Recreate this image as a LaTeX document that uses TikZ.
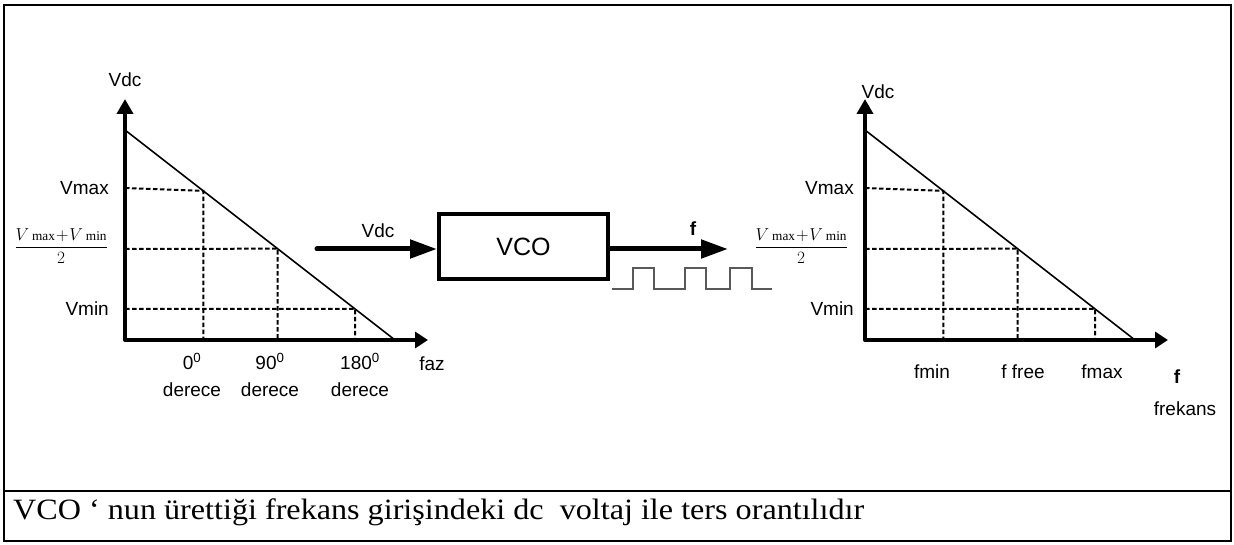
\documentclass[tikz,border=0pt]{standalone}
\usepackage{fontspec}
\setmainfont{Liberation Serif}
\setsansfont{Liberation Sans}
\usetikzlibrary{arrows.meta,positioning,calc}
\tikzset{
  axis/.style={line width=4pt, line join=round, {Triangle[length=15pt,width=16pt]}-{Triangle[length=13pt,width=16pt]}},
  guide/.style={line width=2pt, dash pattern=on 4.5pt off 2.5pt},
  curve/.style={line width=1.6pt},
  lbl/.style={font=\sffamily\fontsize{19}{27}\selectfont, inner sep=1pt, align=center},
  bold/.style={lbl, font=\sffamily\bfseries\fontsize{19}{22}\selectfont},
  frac/.style={font=\fontsize{19}{22}\selectfont, inner sep=0pt},
  sig/.style={-{Triangle[length=27pt,width=18pt]}, line width=5pt, line cap=round},
  vco/.style={draw, line width=4pt, minimum width=169pt, minimum height=65pt, font=\sffamily\fontsize{25}{28}\selectfont},
  wave/.style={black!65, line width=1.3pt},
  frame/.style={line width=2pt}}
\newcommand{\vavg}{$\displaystyle\frac{V\,{\scriptstyle\mathrm{max}}\!+\!V\,{\scriptstyle\mathrm{min}}}{2}$}

\begin{document}
\begin{tikzpicture}[x=1pt, y=-1pt]
  \useasboundingbox (0,0) rectangle (1234,545);
  \draw[frame] (4,5) rectangle (1231,541);
  \draw[frame] (4,491) -- (1231,491);
  % phase chart
  \coordinate (lo) at (125,340);
  \coordinate (ly) at (125,99);
  \coordinate (lx) at (428,340);
  \coordinate (ltop) at (125,130);
  \coordinate (lend) at (395,340);
  \coordinate (lmax) at (125,188);
  \coordinate (lmid) at (125,249);
  \coordinate (lmin) at (125,309);
  \coordinate (lp1) at ($(ltop)!0.29!(lend)$);
  \coordinate (lp2) at ($(ltop)!0.565!(lend)$);
  \coordinate (lp3) at ($(ltop)!0.852!(lend)$);
  \draw[guide] (lmax) -- (lp1) -- (lp1 |- lo);
  \draw[guide] (lmid) -- (lp2) -- (lp2 |- lo);
  \draw[guide] (lmin) -- (lp3) -- (lp3 |- lo);
  \draw[curve] (ltop) -- (lend);
  \draw[axis] (ly) -- (lo) -- (lx);
  \node[lbl] (lvdc) at (125,80) {Vdc};
  \node[lbl, left=15pt of lmax] (lvmax) {Vmax};
  \node[frac, left=17pt of lmid, yshift=3pt] (lvavg) {\vavg};
  \node[lbl, left=15pt of lmin] (lvmin) {Vmin};
  \node[lbl] (l0) at (192,375) {0\textsuperscript{0}\\derece};
  \node[lbl] (l90) at (270,375) {90\textsuperscript{0}\\derece};
  \node[lbl] (l180) at (360,375) {180\textsuperscript{0}\\derece};
  \node[lbl] (lfaz) at (432,364) {faz};
  % vco block
  \node[vco] (vco) at (523.5,247) {VCO};
  \coordinate (vin) at (317,249);
  \coordinate (fout) at (728,249);
  \draw[sig] (vin) -- (vin -| vco.west);
  \draw[sig] (vco.east |- fout) -- (fout);
  \node[lbl] (vdcin) at (378,231) {Vdc};
  \node[bold] (fo) at (693,229) {f};
  \coordinate (wv) at (612,289);
  \draw[wave] (wv) -- ++(21,0) -- ++(0,-21) -- ++(21,0) -- ++(0,21) -- ++(31,0)
    -- ++(0,-21) -- ++(21,0) -- ++(0,21) -- ++(24,0) -- ++(0,-21) -- ++(22,0)
    -- ++(0,21) -- ++(20,0);
  % frequency chart
  \coordinate (ro) at (865,340);
  \coordinate (ry) at (865,99);
  \coordinate (rx) at (1168,340);
  \coordinate (rtop) at (865,130);
  \coordinate (rend) at (1135,340);
  \coordinate (rmax) at (865,188);
  \coordinate (rmid) at (865,249);
  \coordinate (rmin) at (865,309);
  \coordinate (rp1) at ($(rtop)!0.29!(rend)$);
  \coordinate (rp2) at ($(rtop)!0.565!(rend)$);
  \coordinate (rp3) at ($(rtop)!0.852!(rend)$);
  \draw[guide] (rmax) -- (rp1) -- (rp1 |- ro);
  \draw[guide] (rmid) -- (rp2) -- (rp2 |- ro);
  \draw[guide] (rmin) -- (rp3) -- (rp3 |- ro);
  \draw[curve] (rtop) -- (rend);
  \draw[axis] (ry) -- (ro) -- (rx);
  \node[lbl] (rvdc) at (878,92) {Vdc};
  \node[lbl, left=10pt of rmax] (rvmax) {Vmax};
  \node[frac, left=17pt of rmid, yshift=3pt] (rvavg) {\vavg};
  \node[lbl, left=10pt of rmin] (rvmin) {Vmin};
  \node[lbl] (rfmin) at (932,372) {fmin};
  \node[lbl] (rffree) at (1023,372) {f free};
  \node[lbl] (rfmax) at (1102,372) {fmax};
  \node[bold] (rf) at (1177,377) {f};
  \node[lbl] (rfrek) at (1185,409) {frekans};
  % caption
  \node[anchor=base west, inner sep=0pt, font=\fontsize{29.5}{32}\selectfont] (cap) at (13,519)
    {\scalebox{1.09}[1]{VCO ‘ nun ürettiği frekans girişindeki dc\ \ voltaj ile ters orantılıdır}};
\end{tikzpicture}
\end{document}
